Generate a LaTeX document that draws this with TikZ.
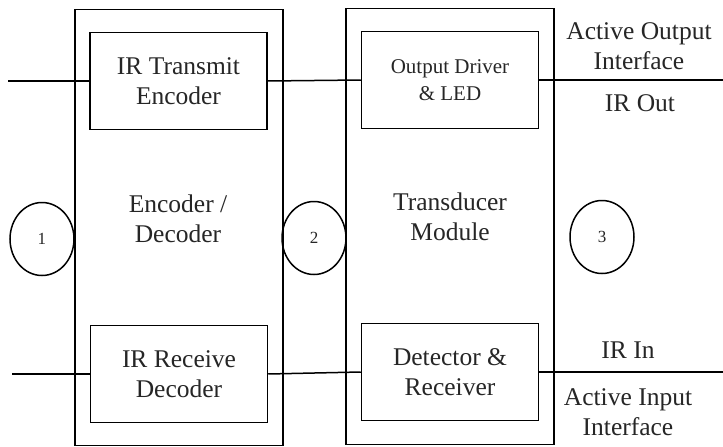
\documentclass[tikz,border=0pt]{standalone}
\usepackage{fontspec}
\setmainfont{Liberation Serif}
\newfontfamily\tnr{Liberation Serif}
\usetikzlibrary{shapes.geometric}
\begin{document}
\begin{tikzpicture}[x=1pt,y=-1pt,
  ink/.style={line width=1.5pt,draw=black},
  outerbox/.style={ink,rectangle,minimum width=208pt,minimum height=436pt,inner sep=0pt},
  innerbox/.style={ink,rectangle,minimum width=177pt,minimum height=97pt,inner sep=0pt,align=center,
    font=\tnr\fontsize{25.5}{30}\selectfont,text=black!85},
  smallbox/.style={innerbox,font=\tnr\fontsize{21}{27}\selectfont},
  numcirc/.style={ink,ellipse,minimum width=64pt,minimum height=73pt,inner sep=0pt,
    font=\tnr\fontsize{17}{20}\selectfont,text=black!85},
  label/.style={align=center,font=\tnr\fontsize{25.5}{29.5}\selectfont,text=black!85,inner sep=0pt},
  wire/.style={line width=1.5pt,draw=black}]
\useasboundingbox (0,0) rectangle (723,447);
% outer modules
\node[outerbox] (encdec) at (179,227.5) {};
\node[outerbox] (trans) at (450,226.5) {};
% inner blocks
\node[innerbox] (tx) at (178.5,81) {IR Transmit\\Encoder};
\node[smallbox] (drv) at (450,80) {Output Driver\\\& LED};
\node[innerbox] (rx) at (179,374) {IR Receive\\Decoder};
\node[innerbox] (det) at (450,372) {Detector \&\\Receiver};
% module labels
\node[label] (encl) at (178,219) {Encoder /\\Decoder};
\node[label] (transl) at (450,217) {Transducer\\Module};
% interface circles
\node[numcirc] (c1) at (42,239) {1};
\node[numcirc] (c2) at (314,238) {2};
\node[numcirc] (c3) at (602,237) {3};
% free ends
\coordinate (tin) at (8,81);
\coordinate (tout) at (723,80);
\coordinate (bin) at (12,374);
\coordinate (bout) at (723,372);
% wires
\draw[wire] (tin) -- (tx.west);
\draw[wire] (tx.east) -- (drv.west);
\draw[wire] (drv.east) -- (tout);
\draw[wire] (bin) -- (rx.west);
\draw[wire] (rx.east) -- (det.west);
\draw[wire] (det.east) -- (bout);
% right-side labels
\node[label] (aol) at (639,46) {Active Output\\Interface};
\node[label] (irout) at (640,103) {IR Out};
\node[label] (irin) at (628,350) {IR In};
\node[label] (ail) at (628,412) {Active Input\\Interface};
\end{tikzpicture}
\end{document}
